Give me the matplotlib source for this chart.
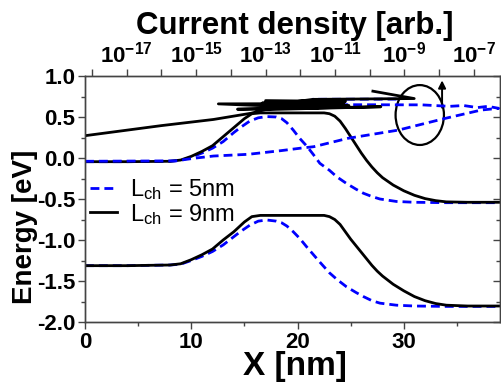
import numpy as np
import matplotlib
matplotlib.use("Agg")
import matplotlib.pyplot as plt
from matplotlib import ticker
from matplotlib.patches import Ellipse

plt.rcParams['font.family'] = ['Liberation Sans', 'DejaVu Sans']
plt.rcParams['axes.unicode_minus'] = False

# band edges vs position
x_9nm = [0, 4, 8, 9, 10, 11, 12, 13, 14, 15, 15.7, 16.5, 20, 22.5, 23.0, 23.5, 24.0, 24.5, 25.0,
         25.5, 26.0, 26.5, 27.0, 27.5, 28.0, 29.0, 30.0, 31.0, 32.0, 33.0, 34.0, 36.0, 39.0]
cb_9nm = [-0.045, -0.045, -0.04, -0.025, 0.02, 0.08, 0.15, 0.26, 0.37, 0.48, 0.54, 0.55, 0.55, 0.55,
          0.54, 0.51, 0.45, 0.36, 0.26, 0.16, 0.06, -0.03, -0.11, -0.18, -0.24, -0.33, -0.40, -0.455,
          -0.495, -0.52, -0.535, -0.54, -0.54]
vb_9nm = [-1.313, -1.313, -1.305, -1.29, -1.24, -1.18, -1.11, -1.00, -0.90, -0.78, -0.715, -0.70, -0.70,
          -0.70, -0.715, -0.75, -0.81, -0.90, -0.99, -1.07, -1.15, -1.23, -1.31, -1.38, -1.44, -1.54,
          -1.62, -1.69, -1.74, -1.775, -1.795, -1.805, -1.805]

x_5nm = [0, 4, 8, 9, 10, 11, 12, 13, 14, 14.6, 15.5, 16.3, 17.1, 18.0, 18.5, 19.0, 19.6, 20.2, 20.9,
         21.5, 22.1, 23.0, 23.7, 24.6, 25.5, 26.2, 27.0, 27.75, 29.3, 31.0, 34.0, 39.0]
cb_5nm = [-0.045, -0.045, -0.04, -0.03, 0.01, 0.06, 0.12, 0.20, 0.31, 0.37, 0.45, 0.49, 0.505, 0.50,
          0.48, 0.43, 0.34, 0.24, 0.14, 0.04, -0.065, -0.15, -0.23, -0.31, -0.38, -0.43, -0.47, -0.50,
          -0.53, -0.54, -0.545, -0.545]
vb_5nm = [-1.313, -1.313, -1.305, -1.295, -1.25, -1.20, -1.14, -1.06, -0.96, -0.90, -0.82, -0.77,
          -0.756, -0.77, -0.79, -0.83, -0.90, -0.98, -1.09, -1.18, -1.27, -1.40, -1.48, -1.57, -1.64,
          -1.69, -1.74, -1.77, -1.795, -1.805, -1.81, -1.81]

# current density (log10) vs energy
logj_9nm = [-18.2, -16.0, -14.5, -13.43, -13.0, -9.68, -13.81, -11.5, -14.36, -10.75, -13.1,
            -10.7, -13.0, -10.6, -12.8, -11.64, -8.72, -9.91]
ej_9nm = [0.272, 0.395, 0.47, 0.545, 0.59, 0.625, 0.595, 0.61, 0.66, 0.665, 0.67, 0.69, 0.70,
          0.64, 0.65, 0.715, 0.725, 0.815]
logj_5nm = [-18.2, -15.6, -15.0, -14.5, -13.5, -12.57, -11.99, -11.61, -10.63, -9.18, -7.86, -6.79,
            -6.29, -6.6, -6.9, -7.3, -7.7, -8.5, -10.75, -11.0, -11.64, -9.1]
ej_5nm = [-0.04, -0.035, 0.0, 0.024, 0.045, 0.089, 0.12, 0.138, 0.24, 0.34, 0.48, 0.585, 0.606,
          0.63, 0.615, 0.64, 0.63, 0.648, 0.65, 0.70, 0.716, 0.718]

# annotation: circle and arrow (nm, eV)
circle_xy = (31.5, 0.524)
circle_wh = (4.55, 0.73)
arrow_x = 33.6
arrow_e = (0.58, 0.98)

blue = '#0000ff'
dash = (0, (3.2, 1.8))

fig = plt.figure(figsize=(5.02, 3.88), dpi=100)
ax = fig.add_axes([85/502, 66/388, 415/502, 246/388])
ax2 = ax.twiny()

ax.plot(x_5nm, cb_5nm, color=blue, lw=2.0, ls=dash, label='$\\mathregular{L_{ch}}$ = 5nm')
ax.plot(x_9nm, cb_9nm, color='k', lw=2.0, label='$\\mathregular{L_{ch}}$ = 9nm')
ax.plot(x_5nm, vb_5nm, color=blue, lw=2.0, ls=dash)
ax.plot(x_9nm, vb_9nm, color='k', lw=2.0)

ax2.plot(10.0 ** np.array(logj_5nm), ej_5nm, color=blue, lw=2.0, ls=dash)
ax2.plot(10.0 ** np.array(logj_9nm), ej_9nm, color='k', lw=2.0)

ax.add_patch(Ellipse(circle_xy, circle_wh[0], circle_wh[1], fill=False, ec='k', lw=1.6, zorder=5))
ax.annotate('', xy=(arrow_x, arrow_e[1]), xytext=(arrow_x, arrow_e[0]),
            arrowprops=dict(arrowstyle='-|>', color='k', lw=1.4, mutation_scale=11), zorder=6)

ax.set_xlim(0, 39.05)
ax.set_ylim(-2.0, 1.0)
ax2.set_xscale('log')
ax2.set_xlim(10 ** -18.2, 10 ** -6.25)

ax.xaxis.set_major_locator(ticker.MultipleLocator(10))
ax.xaxis.set_minor_locator(ticker.MultipleLocator(5))
ax.yaxis.set_major_locator(ticker.MultipleLocator(0.5))
ax.yaxis.set_minor_locator(ticker.MultipleLocator(0.25))
ax.yaxis.set_major_formatter(ticker.FormatStrFormatter('%.1f'))

ax2.xaxis.set_major_locator(ticker.LogLocator(base=10, numticks=30))
ax2.xaxis.set_minor_locator(ticker.NullLocator())


def top_fmt(v, pos):
    e = int(round(np.log10(v)))
    if e % 2 == 0:
        return ''
    return '$\\mathdefault{10^{%d}}$' % e


ax2.xaxis.set_major_formatter(ticker.FuncFormatter(top_fmt))

ax.tick_params(axis='both', which='major', direction='out', length=5, width=1, color='#444444',
               labelsize=16, pad=2)
ax.tick_params(axis='both', which='minor', direction='out', length=3, width=1, color='#444444')
ax.tick_params(axis='y', which='both', right=True)
for t in ax.yaxis.get_major_ticks() + ax.yaxis.get_minor_ticks():
    t.tick2line.set_marker(matplotlib.lines.TICKLEFT)
ax2.tick_params(axis='x', which='major', direction='out', length=5, width=1, color='#444444',
                labelsize=16, pad=1)
for lab in ax.get_xticklabels() + ax.get_yticklabels() + ax2.get_xticklabels():
    lab.set_fontweight('bold')

for a in (ax, ax2):
    for s in a.spines.values():
        s.set_color('#444444')
        s.set_linewidth(1)

ax.set_xlabel('X [nm]', fontsize=24, fontweight='bold')
ax.xaxis.set_label_coords(0.506, -0.118)
ax.set_ylabel('Energy [eV]', fontsize=20, fontweight='bold')
ax.yaxis.set_label_coords(-0.113, 0.385)
ax2.set_xlabel('Current density [arb.]', fontsize=22.5, fontweight='bold')
ax2.xaxis.set_label_coords(0.506, 1.17)

ax.legend(loc='upper left', bbox_to_anchor=(0.012, 0.59), frameon=False, fontsize=17,
          handlelength=1.15, handletextpad=0.55, labelspacing=0.0, borderpad=0, borderaxespad=0)

fig.savefig('out.png', dpi=100)
